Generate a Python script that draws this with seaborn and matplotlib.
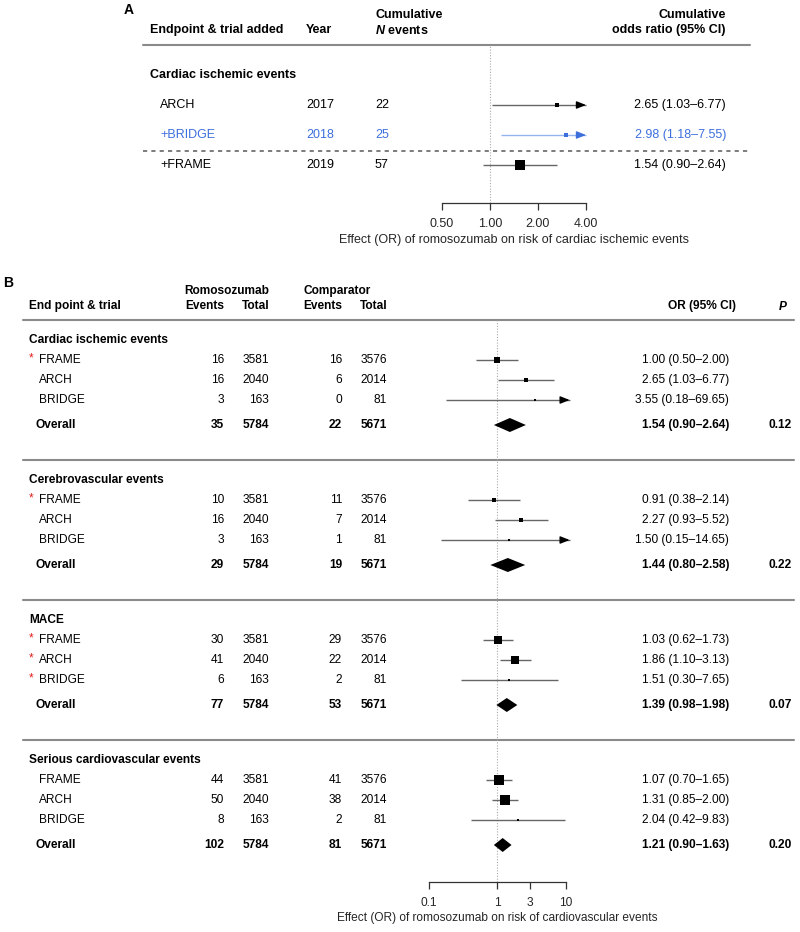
"""
Forest plots: cumulative meta-analysis (A) and per-endpoint meta-analysis (B)
of romosozumab vs comparator
"""
import numpy as np
import matplotlib.pyplot as plt
import seaborn as sns

# ---------------- Panel A data ----------------
a_trials = ['ARCH', '+BRIDGE', '+FRAME']
a_years = [2017, 2018, 2019]
a_events = [22, 25, 57]
a_or = [2.65, 2.98, 1.54]
a_lo = [1.03, 1.18, 0.90]
a_hi = [6.77, 7.55, 2.64]
a_ticks = [0.5, 1, 2, 4]
a_ticklabels = ['0.50', '1.00', '2.00', '4.00']

# ---------------- Panel B data ----------------
groups = ['Cardiac ischemic events', 'Cerebrovascular events', 'MACE',
          'Serious cardiovascular events']
trials = ['FRAME', 'ARCH', 'BRIDGE']
romo_total = [3581, 2040, 163]
comp_total = [3576, 2014, 81]
romo_events = [[16, 16, 3], [10, 16, 3], [30, 41, 6], [44, 50, 8]]
comp_events = [[16, 6, 0], [11, 7, 1], [29, 22, 2], [41, 38, 2]]
or_est = [[1.00, 2.65, 3.55], [0.91, 2.27, 1.50], [1.03, 1.86, 1.51], [1.07, 1.31, 2.04]]
or_lo = [[0.50, 1.03, 0.18], [0.38, 0.93, 0.15], [0.62, 1.10, 0.30], [0.70, 0.85, 0.42]]
or_hi = [[2.00, 6.77, 69.65], [2.14, 5.52, 14.65], [1.73, 3.13, 7.65], [1.65, 2.00, 9.83]]
flagged = [[True, False, False], [True, False, False], [True, True, True], [False, False, False]]
overall_or = [1.54, 1.44, 1.39, 1.21]
overall_lo = [0.90, 0.80, 0.98, 0.90]
overall_hi = [2.64, 2.58, 1.98, 1.63]
overall_p = ['0.12', '0.22', '0.07', '0.20']
b_ticks = [0.1, 1, 3, 10]
b_ticklabels = ['0.1', '1', '3', '10']

sns.set_theme(style='white')
plt.rcParams['font.family'] = ['Liberation Sans', 'DejaVu Sans']
plt.rcParams['mathtext.fontset'] = 'custom'
plt.rcParams['mathtext.rm'] = 'Liberation Sans'
plt.rcParams['mathtext.it'] = 'Liberation Sans:italic'
plt.rcParams['mathtext.bf'] = 'Liberation Sans:bold'
plt.rcParams['mathtext.bfit'] = 'Liberation Sans:italic:bold'

W, H = 800, 932
BLUE = '#3d6fdc'
LBLUE = '#94b4f0'
LINE_GRAY = '#666666'
RULE_GRAY = '#8a8a8a'
FS_A = 9
FS_B = 8.6

fig = plt.figure(figsize=(W / 100, H / 100), dpi=100)
tax = fig.add_axes([0, 0, 1, 1])
tax.set_xlim(0, W)
tax.set_ylim(H, 0)
tax.axis('off')


def px_axes(left, right, top, bottom, one_px, px_per_dec):
    ax = fig.add_axes([left / W, 1 - bottom / H, (right - left) / W, (bottom - top) / H])
    ax.set_xscale('log')
    ax.set_xlim(10 ** ((left - one_px) / px_per_dec), 10 ** ((right - one_px) / px_per_dec))
    ax.set_ylim(bottom, top)
    ax.patch.set_alpha(0)
    for s in ['top', 'left', 'right']:
        ax.spines[s].set_visible(False)
    ax.set_yticks([])
    ax.minorticks_off()
    return ax


def txt(x, y, s, fs, ha='left', bold=False, color='black', **kw):
    tax.text(x, y, s, ha=ha, va='center', fontsize=fs, color=color,
             fontweight='bold' if bold else 'normal', **kw)


def draw_ci(ax, y, est, lo, hi, clip, size_px, line_col, mark_col):
    x_end = min(hi, clip)
    ax.hlines(y, lo, x_end, color=line_col, lw=1)
    if hi > clip:
        ax.annotate('', xy=(clip, y), xytext=(-5.5, 0), textcoords='offset points',
                    xycoords='data',
                    arrowprops=dict(arrowstyle='-|>,head_length=0.55,head_width=0.22',
                                    mutation_scale=10, color=mark_col, lw=1,
                                    shrinkA=0, shrinkB=0))
    side_pt = size_px / 1.389
    sns.scatterplot(x=[est], y=[y], marker='s', s=side_pt ** 2, color=mark_col,
                    linewidth=0, ax=ax, legend=False, zorder=3)


# ================= Panel A =================
txt(124, 10, 'A', FS_A + 1, bold=True)
txt(150, 30, 'Endpoint & trial added', FS_A, bold=True)
txt(306, 30, 'Year', FS_A, bold=True)
txt(375, 15, 'Cumulative', FS_A, bold=True)
txt(375, 30, r'$\mathbfit{N}$ events', FS_A, bold=True)
txt(726, 15, 'Cumulative', FS_A, ha='right', bold=True)
txt(726, 30, 'odds ratio (95% CI)', FS_A, ha='right', bold=True)
tax.plot([143, 750], [45, 45], color=RULE_GRAY, lw=1.5)
txt(150, 75, 'Cardiac ischemic events', FS_A, bold=True)

axA = px_axes(400, 640, 45, 203, 490, 48 / np.log10(2))
axA.axvline(1, color='#aaaaaa', lw=0.8, ls=(0, (1, 1.5)), zorder=0)
a_rows = [105, 135, 165]
a_w = [np.log(h) - np.log(l) for l, h in zip(a_lo, a_hi)]
for i, name in enumerate(a_trials):
    y = a_rows[i]
    blue = name == '+BRIDGE'
    tcol = BLUE if blue else 'black'
    txt(160, y, name, FS_A, color=tcol)
    txt(306, y, str(a_years[i]), FS_A, color=tcol)
    txt(375, y, str(a_events[i]), FS_A, color=tcol)
    txt(726, y, f'{a_or[i]:.2f} ({a_lo[i]:.2f}\u2013{a_hi[i]:.2f})', FS_A, ha='right', color=tcol)
    size = max(3.5, 11.0 / a_w[i] ** 2)
    draw_ci(axA, y, a_or[i], a_lo[i], a_hi[i], 4, size,
            LBLUE if blue else LINE_GRAY, BLUE if blue else 'black')
tax.plot([143, 750], [151, 151], color=LINE_GRAY, lw=1.2, ls=(0, (2.5, 2.5)))

axA.spines['bottom'].set_bounds(0.5, 4)
axA.spines['bottom'].set_color('#333333')
axA.spines['bottom'].set_linewidth(0.9)
axA.set_xticks(a_ticks)
axA.set_xticklabels(a_ticklabels, fontsize=FS_A)
axA.tick_params(axis='x', direction='out', length=5, width=0.9, color='#333333',
                pad=6, bottom=True)
axA.set_xlabel('Effect (OR) of romosozumab on risk of cardiac ischemic events',
               fontsize=FS_A)
axA.xaxis.set_label_coords(((442 + 586) / 2 - 400) / 240, -(240 - 203) / 158,
                           transform=axA.transAxes)
axA.xaxis.label.set_va('center')

# ================= Panel B =================
txt(3, 283, 'B', FS_B + 1.5, bold=True)
txt(184, 291, 'Romosozumab', FS_B, bold=True)
txt(304, 291, 'Comparator', FS_B, bold=True)
txt(29, 306, 'End point & trial', FS_B, bold=True)
txt(224, 306, 'Events', FS_B, ha='right', bold=True)
txt(269, 306, 'Total', FS_B, ha='right', bold=True)
txt(342, 306, 'Events', FS_B, ha='right', bold=True)
txt(387, 306, 'Total', FS_B, ha='right', bold=True)
txt(736, 306, 'OR (95% CI)', FS_B, ha='right', bold=True)
txt(788, 306, r'$\mathbfit{P}$', FS_B, ha='right', bold=True)
tax.plot([23, 794], [320, 320], color=RULE_GRAY, lw=1.5)

axB = px_axes(400, 600, 320, 882, 497, 68.5)
axB.axvline(1, color='#aaaaaa', lw=0.8, ls=(0, (1, 1.5)), zorder=0)

for g, gname in enumerate(groups):
    base = 320 + 140 * g
    txt(29, base + 20, gname, FS_B, bold=True)
    for i, tname in enumerate(trials):
        y = base + 40 + 20 * i
        if flagged[g][i]:
            txt(31, y - 2, '*', FS_B, ha='center', color='#e0201b')
        txt(39, y, tname, FS_B)
        txt(224, y, str(romo_events[g][i]), FS_B, ha='right')
        txt(269, y, str(romo_total[i]), FS_B, ha='right')
        txt(342, y, str(comp_events[g][i]), FS_B, ha='right')
        txt(387, y, str(comp_total[i]), FS_B, ha='right')
        txt(729, y, f'{or_est[g][i]:.2f} ({or_lo[g][i]:.2f}\u2013{or_hi[g][i]:.2f})',
            FS_B, ha='right')
        w = np.log(or_hi[g][i]) - np.log(or_lo[g][i])
        draw_ci(axB, y, or_est[g][i], or_lo[g][i], or_hi[g][i], 11.5,
                max(3, 8.5 / w), LINE_GRAY, 'black')
    yo = base + 105
    txt(36, yo, 'Overall', FS_B, bold=True)
    txt(224, yo, str(sum(romo_events[g])), FS_B, ha='right', bold=True)
    txt(269, yo, str(sum(romo_total)), FS_B, ha='right', bold=True)
    txt(342, yo, str(sum(comp_events[g])), FS_B, ha='right', bold=True)
    txt(387, yo, str(sum(comp_total)), FS_B, ha='right', bold=True)
    txt(729, yo, f'{overall_or[g]:.2f} ({overall_lo[g]:.2f}\u2013{overall_hi[g]:.2f})',
        FS_B, ha='right', bold=True)
    txt(792, yo, overall_p[g], FS_B, ha='right', bold=True)
    h = 7
    axB.fill([overall_lo[g], overall_or[g], overall_hi[g], overall_or[g]],
             [yo, yo - h, yo, yo + h], color='black', lw=0, zorder=3)
    if g < len(groups) - 1:
        tax.plot([23, 794], [base + 140, base + 140], color=RULE_GRAY, lw=1.5)

axB.spines['bottom'].set_bounds(0.1, 10)
axB.spines['bottom'].set_color('#333333')
axB.spines['bottom'].set_linewidth(0.9)
axB.set_xticks(b_ticks)
axB.set_xticklabels(b_ticklabels, fontsize=FS_B)
axB.tick_params(axis='x', direction='out', length=5, width=0.9, color='#333333',
                pad=6, bottom=True)
axB.set_xlabel('Effect (OR) of romosozumab on risk of cardiovascular events', fontsize=FS_B)
axB.xaxis.set_label_coords((497 - 400) / 200, -(918 - 882) / 562, transform=axB.transAxes)
axB.xaxis.label.set_va('center')

fig.savefig('out.png', dpi=100)
